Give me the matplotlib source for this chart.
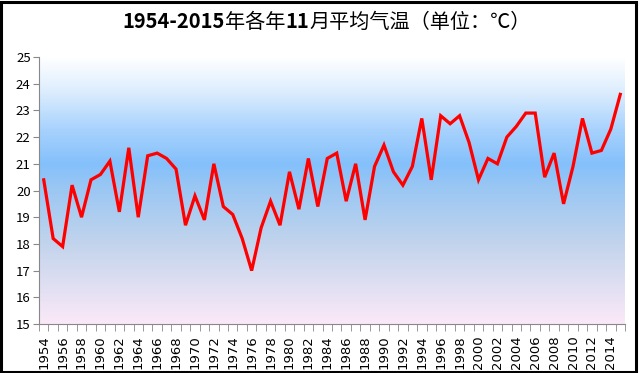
import numpy as np
import matplotlib
matplotlib.use("Agg")
import matplotlib.pyplot as plt
from matplotlib.colors import LinearSegmentedColormap
from matplotlib.patches import Rectangle

plt.rcParams['font.family'] = ['Noto Sans CJK SC', 'DejaVu Sans']

# data
years = list(range(1954, 2016))
temps = [20.4, 18.2, 17.9, 20.2, 19.0, 20.4, 20.6, 21.1, 19.2, 21.6,
         19.0, 21.3, 21.4, 21.2, 20.8, 18.7, 19.8, 18.9, 21.0, 19.4,
         19.1, 18.2, 17.0, 18.6, 19.6, 18.7, 20.7, 19.3, 21.2, 19.4,
         21.2, 21.4, 19.6, 21.0, 18.9, 20.9, 21.7, 20.7, 20.2, 20.9,
         22.7, 20.4, 22.8, 22.5, 22.8, 21.8, 20.4, 21.2, 21.0, 22.0,
         22.4, 22.9, 22.9, 20.5, 21.4, 19.5, 20.9, 22.7, 21.4, 21.5,
         22.3, 23.6]
# title pieces: (text, bold?)
title_parts = [("1954-2015", True), ("年各年", False), ("11", True),
               ("月平均气温（单位：℃）", False)]

fig = plt.figure(figsize=(6.4, 3.73), dpi=100)
ax = fig.add_axes([39 / 640, 1 - 324 / 373, 586 / 640, 267 / 373])

# background gradient (bottom -> top)
cmap = LinearSegmentedColormap.from_list("bg", [
    (0.0, "#fbe9f8"),
    (0.3, "#c2d4ec"),
    (0.52, "#98c6f4"),
    (0.6, "#84c0fb"),
    (0.73, "#a8d2fd"),
    (0.87, "#dcedfe"),
    (1.0, "#ffffff"),
])
grad = np.linspace(0, 1, 256).reshape(-1, 1)
ax.imshow(grad, cmap=cmap, origin="lower", aspect="auto",
          extent=[-0.5, len(years) - 0.5, 15, 25], zorder=0)

x = np.arange(len(years))
ax.plot(x, temps, color="#ff0000", lw=2.3, zorder=3, solid_joinstyle="miter")

ax.set_xlim(-0.5, len(years) - 0.5)
ax.set_ylim(15, 25)
ax.set_yticks(range(15, 26))
ax.tick_params(axis="y", length=4, color="#888888", labelsize=9.5, pad=2)

ax.set_xticks(x[::2])
ax.set_xticklabels([str(y) for y in years[::2]], rotation=90, fontsize=9.5,
                   family=['DejaVu Sans'])
ax.set_xticks(np.arange(-0.5, len(years)), minor=True)
ax.tick_params(axis="x", which="major", length=0, pad=8)
ax.tick_params(axis="x", which="minor", length=5, color="#888888")

for s in ["top", "right"]:
    ax.spines[s].set_visible(False)
for s in ["left", "bottom"]:
    ax.spines[s].set_color("#888888")

# title built from pieces so digits are bold and Chinese is regular
renderer = fig.canvas.get_renderer()
texts = []
prev = None
for txt, bold in title_parts:
    kw = dict(fontsize=14.5, fontweight="bold" if bold else "normal",
              va="baseline", ha="left")
    if prev is None:
        t = fig.text(0, 1 - 28 / 373, txt, **kw)
    else:
        t = fig.text(0, 0, txt, **kw)
        t.set_position((prev.get_window_extent(renderer).x1 / fig.bbox.width,
                        1 - 28 / 373))
    texts.append(t)
    prev = t
total = (texts[-1].get_window_extent(renderer).x1 -
         texts[0].get_window_extent(renderer).x0) / fig.bbox.width
shift = 0.5 - total / 2 + 0.01
for t in texts:
    px, py = t.get_position()
    t.set_position((px + shift, py))

fig.patches.append(Rectangle((0.002, 0.004), 0.992, 0.99, transform=fig.transFigure,
                             fill=False, edgecolor="black", lw=2.2))

fig.savefig("out.png", dpi=100)
